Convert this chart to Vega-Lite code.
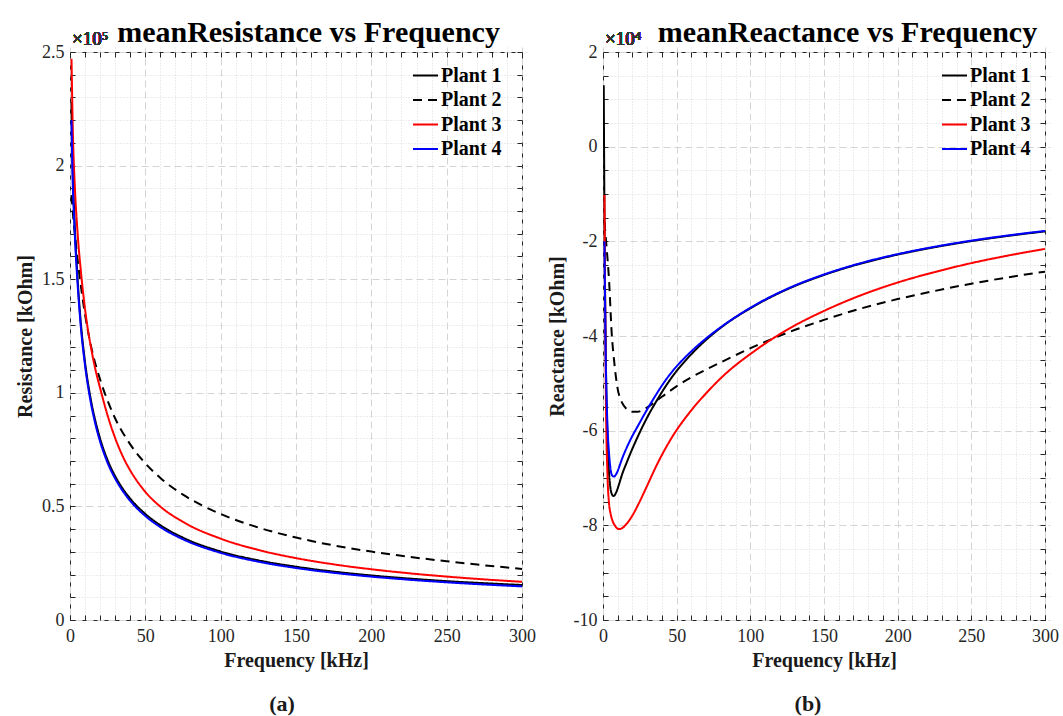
{
  "$schema": "https://vega.github.io/schema/vega-lite/v6.json",
  "background": "white",
  "padding": {"left": 15, "top": 17, "right": 4, "bottom": 4},
  "spacing": 10,
  "datasets": {
    "res": [
      {"plant": "Plant 1", "f": 1, "v": 228000}, {"plant": "Plant 1", "f": 1.5, "v": 207000}, {"plant": "Plant 1", "f": 3, "v": 176000}, {"plant": "Plant 1", "f": 5, "v": 150500}, {"plant": "Plant 1", "f": 7, "v": 132200}, {"plant": "Plant 1", "f": 10, "v": 113300}, {"plant": "Plant 1", "f": 13, "v": 100000}, {"plant": "Plant 1", "f": 17, "v": 87200}, {"plant": "Plant 1", "f": 20, "v": 79800}, {"plant": "Plant 1", "f": 25, "v": 70300}, {"plant": "Plant 1", "f": 30, "v": 63300}, {"plant": "Plant 1", "f": 35, "v": 57800}, {"plant": "Plant 1", "f": 40, "v": 53400}, {"plant": "Plant 1", "f": 50, "v": 46700}, {"plant": "Plant 1", "f": 60, "v": 41700}, {"plant": "Plant 1", "f": 75, "v": 36250}, {"plant": "Plant 1", "f": 100, "v": 30150}, {"plant": "Plant 1", "f": 125, "v": 26250}, {"plant": "Plant 1", "f": 150, "v": 23450}, {"plant": "Plant 1", "f": 175, "v": 21300}, {"plant": "Plant 1", "f": 200, "v": 19600}, {"plant": "Plant 1", "f": 225, "v": 18250}, {"plant": "Plant 1", "f": 250, "v": 17100}, {"plant": "Plant 1", "f": 275, "v": 16200}, {"plant": "Plant 1", "f": 300, "v": 15400},
      {"plant": "Plant 2", "f": 1, "v": 187000}, {"plant": "Plant 2", "f": 2, "v": 178500}, {"plant": "Plant 2", "f": 3, "v": 171200}, {"plant": "Plant 2", "f": 5, "v": 159000}, {"plant": "Plant 2", "f": 6.3, "v": 151800}, {"plant": "Plant 2", "f": 8, "v": 143200}, {"plant": "Plant 2", "f": 10, "v": 134400}, {"plant": "Plant 2", "f": 12, "v": 126800}, {"plant": "Plant 2", "f": 15, "v": 117500}, {"plant": "Plant 2", "f": 20, "v": 105800}, {"plant": "Plant 2", "f": 23, "v": 100000}, {"plant": "Plant 2", "f": 30, "v": 88700}, {"plant": "Plant 2", "f": 40, "v": 77300}, {"plant": "Plant 2", "f": 50.5, "v": 68600}, {"plant": "Plant 2", "f": 60, "v": 62500}, {"plant": "Plant 2", "f": 75, "v": 55170}, {"plant": "Plant 2", "f": 88, "v": 50300}, {"plant": "Plant 2", "f": 100, "v": 46650}, {"plant": "Plant 2", "f": 125, "v": 40710}, {"plant": "Plant 2", "f": 150, "v": 36290}, {"plant": "Plant 2", "f": 175, "v": 32830}, {"plant": "Plant 2", "f": 200, "v": 30100}, {"plant": "Plant 2", "f": 225, "v": 27820}, {"plant": "Plant 2", "f": 250, "v": 25840}, {"plant": "Plant 2", "f": 275, "v": 24080}, {"plant": "Plant 2", "f": 300, "v": 22500},
      {"plant": "Plant 3", "f": 1, "v": 247000}, {"plant": "Plant 3", "f": 2, "v": 212000}, {"plant": "Plant 3", "f": 3, "v": 193900}, {"plant": "Plant 3", "f": 5, "v": 170700}, {"plant": "Plant 3", "f": 7.4, "v": 152300}, {"plant": "Plant 3", "f": 10, "v": 136700}, {"plant": "Plant 3", "f": 15, "v": 116200}, {"plant": "Plant 3", "f": 21, "v": 99500}, {"plant": "Plant 3", "f": 25, "v": 89940}, {"plant": "Plant 3", "f": 30, "v": 80030}, {"plant": "Plant 3", "f": 37.3, "v": 69000}, {"plant": "Plant 3", "f": 40, "v": 65800}, {"plant": "Plant 3", "f": 50, "v": 56400}, {"plant": "Plant 3", "f": 60, "v": 49900}, {"plant": "Plant 3", "f": 75, "v": 43170}, {"plant": "Plant 3", "f": 100, "v": 35800}, {"plant": "Plant 3", "f": 125, "v": 30830}, {"plant": "Plant 3", "f": 150, "v": 27240}, {"plant": "Plant 3", "f": 175, "v": 24490}, {"plant": "Plant 3", "f": 200, "v": 22340}, {"plant": "Plant 3", "f": 225, "v": 20570}, {"plant": "Plant 3", "f": 250, "v": 19110}, {"plant": "Plant 3", "f": 275, "v": 17870}, {"plant": "Plant 3", "f": 300, "v": 16820},
      {"plant": "Plant 4", "f": 1, "v": 220000}, {"plant": "Plant 4", "f": 1.5, "v": 201200}, {"plant": "Plant 4", "f": 3, "v": 172800}, {"plant": "Plant 4", "f": 5, "v": 148300}, {"plant": "Plant 4", "f": 7, "v": 130500}, {"plant": "Plant 4", "f": 10, "v": 111900}, {"plant": "Plant 4", "f": 13, "v": 98700}, {"plant": "Plant 4", "f": 17, "v": 85800}, {"plant": "Plant 4", "f": 20, "v": 78500}, {"plant": "Plant 4", "f": 25, "v": 69100}, {"plant": "Plant 4", "f": 30, "v": 62200}, {"plant": "Plant 4", "f": 35, "v": 56800}, {"plant": "Plant 4", "f": 40, "v": 52400}, {"plant": "Plant 4", "f": 50, "v": 45770}, {"plant": "Plant 4", "f": 60, "v": 40880}, {"plant": "Plant 4", "f": 75, "v": 35520}, {"plant": "Plant 4", "f": 100, "v": 29550}, {"plant": "Plant 4", "f": 125, "v": 25670}, {"plant": "Plant 4", "f": 150, "v": 22890}, {"plant": "Plant 4", "f": 175, "v": 20770}, {"plant": "Plant 4", "f": 200, "v": 19090}, {"plant": "Plant 4", "f": 225, "v": 17730}, {"plant": "Plant 4", "f": 250, "v": 16590}, {"plant": "Plant 4", "f": 275, "v": 15620}, {"plant": "Plant 4", "f": 300, "v": 14790}
    ],
    "rea": [
      {"plant": "Plant 1", "f": 0.5, "v": 13000}, {"plant": "Plant 1", "f": 1, "v": -15000}, {"plant": "Plant 1", "f": 2, "v": -46000}, {"plant": "Plant 1", "f": 3, "v": -61000}, {"plant": "Plant 1", "f": 4, "v": -68500}, {"plant": "Plant 1", "f": 5, "v": -72000}, {"plant": "Plant 1", "f": 6, "v": -73400}, {"plant": "Plant 1", "f": 7, "v": -73800}, {"plant": "Plant 1", "f": 8, "v": -73600}, {"plant": "Plant 1", "f": 9, "v": -73000}, {"plant": "Plant 1", "f": 11, "v": -71200}, {"plant": "Plant 1", "f": 13, "v": -69200}, {"plant": "Plant 1", "f": 16, "v": -66800}, {"plant": "Plant 1", "f": 19, "v": -64500}, {"plant": "Plant 1", "f": 24, "v": -61000}, {"plant": "Plant 1", "f": 30, "v": -57200}, {"plant": "Plant 1", "f": 36, "v": -53900}, {"plant": "Plant 1", "f": 47, "v": -48600}, {"plant": "Plant 1", "f": 58, "v": -44500}, {"plant": "Plant 1", "f": 70, "v": -40800}, {"plant": "Plant 1", "f": 81, "v": -38000}, {"plant": "Plant 1", "f": 103.6, "v": -33500}, {"plant": "Plant 1", "f": 126, "v": -30000}, {"plant": "Plant 1", "f": 150, "v": -27100}, {"plant": "Plant 1", "f": 175, "v": -24700}, {"plant": "Plant 1", "f": 200, "v": -22800}, {"plant": "Plant 1", "f": 225, "v": -21250}, {"plant": "Plant 1", "f": 250, "v": -19950}, {"plant": "Plant 1", "f": 275, "v": -18850}, {"plant": "Plant 1", "f": 300, "v": -17900},
      {"plant": "Plant 2", "f": 1, "v": -16000}, {"plant": "Plant 2", "f": 2.2, "v": -20400}, {"plant": "Plant 2", "f": 4.1, "v": -28200}, {"plant": "Plant 2", "f": 5.9, "v": -39400}, {"plant": "Plant 2", "f": 7.5, "v": -45100}, {"plant": "Plant 2", "f": 9.7, "v": -50700}, {"plant": "Plant 2", "f": 13.1, "v": -54200}, {"plant": "Plant 2", "f": 16, "v": -55400}, {"plant": "Plant 2", "f": 19.9, "v": -56000}, {"plant": "Plant 2", "f": 23.5, "v": -56000}, {"plant": "Plant 2", "f": 27.8, "v": -55500}, {"plant": "Plant 2", "f": 35.8, "v": -53800}, {"plant": "Plant 2", "f": 45, "v": -51700}, {"plant": "Plant 2", "f": 58.4, "v": -49000}, {"plant": "Plant 2", "f": 70, "v": -47100}, {"plant": "Plant 2", "f": 81, "v": -45400}, {"plant": "Plant 2", "f": 103.6, "v": -42100}, {"plant": "Plant 2", "f": 126, "v": -39200}, {"plant": "Plant 2", "f": 150, "v": -36600}, {"plant": "Plant 2", "f": 175, "v": -34200}, {"plant": "Plant 2", "f": 200, "v": -32200}, {"plant": "Plant 2", "f": 225, "v": -30500}, {"plant": "Plant 2", "f": 250, "v": -28950}, {"plant": "Plant 2", "f": 275, "v": -27600}, {"plant": "Plant 2", "f": 300, "v": -26400},
      {"plant": "Plant 3", "f": 1, "v": -10200}, {"plant": "Plant 3", "f": 1.5, "v": -35000}, {"plant": "Plant 3", "f": 2, "v": -54000}, {"plant": "Plant 3", "f": 3, "v": -69000}, {"plant": "Plant 3", "f": 4.1, "v": -75400}, {"plant": "Plant 3", "f": 5, "v": -77300}, {"plant": "Plant 3", "f": 6.3, "v": -78900}, {"plant": "Plant 3", "f": 8, "v": -80000}, {"plant": "Plant 3", "f": 10.9, "v": -80800}, {"plant": "Plant 3", "f": 13, "v": -80600}, {"plant": "Plant 3", "f": 15.4, "v": -79900}, {"plant": "Plant 3", "f": 20, "v": -77900}, {"plant": "Plant 3", "f": 24.4, "v": -75300}, {"plant": "Plant 3", "f": 30, "v": -71600}, {"plant": "Plant 3", "f": 35.8, "v": -67700}, {"plant": "Plant 3", "f": 47, "v": -61300}, {"plant": "Plant 3", "f": 58.4, "v": -56300}, {"plant": "Plant 3", "f": 70, "v": -52100}, {"plant": "Plant 3", "f": 81, "v": -48600}, {"plant": "Plant 3", "f": 103.6, "v": -43000}, {"plant": "Plant 3", "f": 126, "v": -38500}, {"plant": "Plant 3", "f": 150, "v": -34700}, {"plant": "Plant 3", "f": 175, "v": -31400}, {"plant": "Plant 3", "f": 200, "v": -28700}, {"plant": "Plant 3", "f": 225, "v": -26500}, {"plant": "Plant 3", "f": 250, "v": -24600}, {"plant": "Plant 3", "f": 275, "v": -23000}, {"plant": "Plant 3", "f": 300, "v": -21600},
      {"plant": "Plant 4", "f": 1, "v": -20000}, {"plant": "Plant 4", "f": 1.8, "v": -43600}, {"plant": "Plant 4", "f": 2.9, "v": -57800}, {"plant": "Plant 4", "f": 4.1, "v": -64800}, {"plant": "Plant 4", "f": 5.2, "v": -68300}, {"plant": "Plant 4", "f": 6.3, "v": -69500}, {"plant": "Plant 4", "f": 7.5, "v": -69700}, {"plant": "Plant 4", "f": 8.7, "v": -69300}, {"plant": "Plant 4", "f": 10, "v": -68500}, {"plant": "Plant 4", "f": 11.5, "v": -67200}, {"plant": "Plant 4", "f": 13.1, "v": -65800}, {"plant": "Plant 4", "f": 15.5, "v": -64000}, {"plant": "Plant 4", "f": 18.8, "v": -61800}, {"plant": "Plant 4", "f": 24.4, "v": -58600}, {"plant": "Plant 4", "f": 30, "v": -55500}, {"plant": "Plant 4", "f": 35.8, "v": -52500}, {"plant": "Plant 4", "f": 41, "v": -50000}, {"plant": "Plant 4", "f": 47, "v": -47500}, {"plant": "Plant 4", "f": 58.4, "v": -43700}, {"plant": "Plant 4", "f": 70, "v": -40500}, {"plant": "Plant 4", "f": 81, "v": -37900}, {"plant": "Plant 4", "f": 103.6, "v": -33400}, {"plant": "Plant 4", "f": 126, "v": -29900}, {"plant": "Plant 4", "f": 150, "v": -27000}, {"plant": "Plant 4", "f": 175, "v": -24600}, {"plant": "Plant 4", "f": 200, "v": -22700}, {"plant": "Plant 4", "f": 225, "v": -21150}, {"plant": "Plant 4", "f": 250, "v": -19850}, {"plant": "Plant 4", "f": 275, "v": -18750}, {"plant": "Plant 4", "f": 300, "v": -17800}
    ]
  },
  "hconcat": [
    {
      "width": 452,
      "height": 568,
      "data": {"name": "res"},
      "title": {"text": "(a)", "orient": "bottom", "offset": 24, "dx": -14, "fontSize": 22, "font": "Liberation Serif", "fontWeight": "bold", "color": "#1a1a1a"},
      "layer": [
        {
          "mark": {"type": "line", "strokeWidth": 2, "interpolate": "monotone", "clip": true},
          "encoding": {
            "x": {"field": "f", "type": "quantitative", "scale": {"domain": [0, 300], "nice": false, "zero": false},
              "axis": {"orient": "bottom", "title": "Frequency [kHz]", "titlePadding": 5, "labelPadding": 7,
                "values": [0,10,20,30,40,50,60,70,80,90,100,110,120,130,140,150,160,170,180,190,200,210,220,230,240,250,260,270,280,290,300],
                "labelExpr": "datum.value % 50 === 0 ? datum.label : ''",
                "grid": true,
                "gridDash": {"condition": {"test": "datum.value % 50 === 0", "value": [7, 4]}, "value": [1, 2]},
                "gridColor": {"condition": {"test": "datum.value % 50 === 0", "value": "#d4d4d4"}, "value": "#dadada"}}},
            "y": {"field": "v", "type": "quantitative", "scale": {"domain": [0, 250000], "nice": false},
              "axis": {"orient": "left", "title": "Resistance [kOhm]", "titlePadding": 6, "labelPadding": 6,
                "values": [0,10000,20000,30000,40000,50000,60000,70000,80000,90000,100000,110000,120000,130000,140000,150000,160000,170000,180000,190000,200000,210000,220000,230000,240000,250000],
                "labelExpr": "datum.value % 50000 === 0 ? '' + (datum.value / 100000) : ''",
                "grid": true,
                "gridDash": {"condition": {"test": "datum.value % 50000 === 0", "value": [7, 4]}, "value": [1, 2]},
                "gridColor": {"condition": {"test": "datum.value % 50000 === 0", "value": "#d4d4d4"}, "value": "#dadada"}}},
            "color": {"field": "plant", "type": "nominal",
              "scale": {"domain": ["Plant 1", "Plant 2", "Plant 3", "Plant 4"], "range": ["#000000", "#000000", "#ff0000", "#0000ff"]},
              "legend": {"title": null, "orient": "none", "legendX": 342, "legendY": 10}},
            "strokeDash": {"field": "plant", "type": "nominal",
              "scale": {"domain": ["Plant 1", "Plant 2", "Plant 3", "Plant 4"], "range": [[1, 0], [9, 6], [1, 0], [1, 0]]},
              "legend": {"title": null, "orient": "none", "legendX": 342, "legendY": 10}}
          }
        },
        {
          "mark": {"type": "line", "opacity": 0},
          "encoding": {
            "x": {"field": "f", "type": "quantitative",
              "axis": {"orient": "top", "labels": false, "grid": false, "title": "meanResistance vs Frequency", "titleFontSize": 30, "titleColor": "#000000", "titlePadding": 4, "titleX": 238,
                "values": [0,10,20,30,40,50,60,70,80,90,100,110,120,130,140,150,160,170,180,190,200,210,220,230,240,250,260,270,280,290,300]}},
            "y": {"field": "v", "type": "quantitative",
              "axis": {"orient": "right", "labels": false, "grid": false, "title": null,
                "values": [0,10000,20000,30000,40000,50000,60000,70000,80000,90000,100000,110000,120000,130000,140000,150000,160000,170000,180000,190000,200000,210000,220000,230000,240000,250000]}}
          }
        },
        {
          "mark": {"type": "text", "align": "left", "baseline": "bottom", "dx": 2, "dy": -3, "fontSize": 19, "font": "Liberation Serif", "color": "#333333"},
          "encoding": {
            "x": {"datum": 0, "axis": null},
            "y": {"datum": 250000, "axis": null},
            "text": {"value": "×10⁵"}
          }
        }
      ],
      "resolve": {"axis": {"x": "independent", "y": "independent"}}
    },
    {
      "width": 442,
      "height": 568,
      "data": {"name": "rea"},
      "title": {"text": "(b)", "orient": "bottom", "offset": 24, "dx": -16, "fontSize": 22, "font": "Liberation Serif", "fontWeight": "bold", "color": "#1a1a1a"},
      "layer": [
        {
          "mark": {"type": "line", "strokeWidth": 2, "interpolate": "monotone", "clip": true},
          "encoding": {
            "x": {"field": "f", "type": "quantitative", "scale": {"domain": [0, 300], "nice": false, "zero": false},
              "axis": {"orient": "bottom", "title": "Frequency [kHz]", "titlePadding": 5, "labelPadding": 7,
                "values": [0,10,20,30,40,50,60,70,80,90,100,110,120,130,140,150,160,170,180,190,200,210,220,230,240,250,260,270,280,290,300],
                "labelExpr": "datum.value % 50 === 0 ? datum.label : ''",
                "grid": true,
                "gridDash": {"condition": {"test": "datum.value % 50 === 0", "value": [7, 4]}, "value": [1, 2]},
                "gridColor": {"condition": {"test": "datum.value % 50 === 0", "value": "#d4d4d4"}, "value": "#dadada"}}},
            "y": {"field": "v", "type": "quantitative", "scale": {"domain": [-100000, 20000], "nice": false, "zero": false},
              "axis": {"orient": "left", "title": "Reactance [kOhm]", "titlePadding": 6, "labelPadding": 6,
                "values": [-100000,-95000,-90000,-85000,-80000,-75000,-70000,-65000,-60000,-55000,-50000,-45000,-40000,-35000,-30000,-25000,-20000,-15000,-10000,-5000,0,5000,10000,15000,20000],
                "labelExpr": "datum.value % 20000 === 0 ? '' + (datum.value / 10000) : ''",
                "grid": true,
                "gridDash": {"condition": {"test": "datum.value % 20000 === 0", "value": [7, 4]}, "value": [1, 2]},
                "gridColor": {"condition": {"test": "datum.value % 20000 === 0", "value": "#d4d4d4"}, "value": "#dadada"}}},
            "color": {"field": "plant", "type": "nominal",
              "scale": {"domain": ["Plant 1", "Plant 2", "Plant 3", "Plant 4"], "range": ["#000000", "#000000", "#ff0000", "#0000ff"]},
              "legend": {"title": null, "orient": "none", "legendX": 338, "legendY": 10}},
            "strokeDash": {"field": "plant", "type": "nominal",
              "scale": {"domain": ["Plant 1", "Plant 2", "Plant 3", "Plant 4"], "range": [[1, 0], [9, 6], [1, 0], [1, 0]]},
              "legend": {"title": null, "orient": "none", "legendX": 338, "legendY": 10}}
          }
        },
        {
          "mark": {"type": "line", "opacity": 0},
          "encoding": {
            "x": {"field": "f", "type": "quantitative",
              "axis": {"orient": "top", "labels": false, "grid": false, "title": "meanReactance vs Frequency", "titleFontSize": 30, "titleColor": "#000000", "titlePadding": 4, "titleX": 244,
                "values": [0,10,20,30,40,50,60,70,80,90,100,110,120,130,140,150,160,170,180,190,200,210,220,230,240,250,260,270,280,290,300]}},
            "y": {"field": "v", "type": "quantitative",
              "axis": {"orient": "right", "labels": false, "grid": false, "title": null,
                "values": [-100000,-95000,-90000,-85000,-80000,-75000,-70000,-65000,-60000,-55000,-50000,-45000,-40000,-35000,-30000,-25000,-20000,-15000,-10000,-5000,0,5000,10000,15000,20000]}}
          }
        },
        {
          "mark": {"type": "text", "align": "left", "baseline": "bottom", "dx": 2, "dy": -3, "fontSize": 19, "font": "Liberation Serif", "color": "#333333"},
          "encoding": {
            "x": {"datum": 0, "axis": null},
            "y": {"datum": 20000, "axis": null},
            "text": {"value": "×10⁴"}
          }
        }
      ],
      "resolve": {"axis": {"x": "independent", "y": "independent"}}
    }
  ],
  "resolve": {
    "scale": {"color": "independent", "strokeDash": "independent"},
    "legend": {"color": "independent", "strokeDash": "independent"}
  },
  "config": {
    "font": "Liberation Serif",
    "view": {"stroke": "#262626", "strokeWidth": 1},
    "axis": {
      "domain": false, "offset": -5,
      "tickColor": "#262626", "tickSize": 5, "tickWidth": 1,
      "labelFont": "Liberation Serif", "labelFontSize": 18, "labelColor": "#262626",
      "labelFlush": false, "labelOverlap": false, "labelBound": false,
      "titleFont": "Liberation Serif", "titleFontSize": 20, "titleFontWeight": "bold", "titleColor": "#1a1a1a",
      "gridWidth": 1
    },
    "legend": {
      "padding": 0, "labelFont": "Liberation Serif", "labelFontSize": 20, "labelFontWeight": "bold", "labelColor": "#000000",
      "symbolType": "stroke", "symbolSize": 625, "symbolStrokeWidth": 2, "rowPadding": 0.5, "labelOffset": 2, "labelLimit": 300
    }
  }
}
